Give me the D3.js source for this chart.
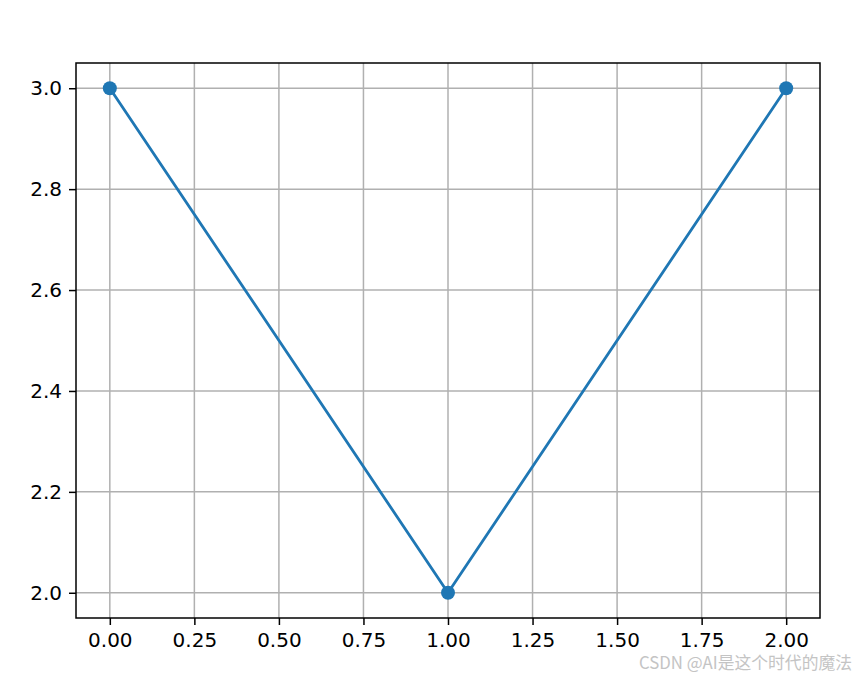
<!DOCTYPE html>
<html><head><meta charset="utf-8">
<script src="https://cdn.jsdelivr.net/npm/d3@7"></script>
<style>body{margin:0;background:#fff}svg{display:block}</style>
</head><body>
<script>
const xValues = [0, 1, 2];
const yValues = [3, 2, 3];
const xTicks = [0, 0.25, 0.5, 0.75, 1.0, 1.25, 1.5, 1.75, 2.0];
const yTicks = [2.0, 2.2, 2.4, 2.6, 2.8, 3.0];

const W = 856, H = 678;
const m = {left: 76, right: 36, top: 63, bottom: 60};
const svg = d3.select("body").append("svg").attr("width", W).attr("height", H);
const x = d3.scaleLinear().domain([-0.1, 2.1]).range([m.left, W - m.right]);
const y = d3.scaleLinear().domain([1.95, 3.05]).range([H - m.bottom, m.top]);
const font = "DejaVu Sans, sans-serif";

// grid
svg.append("g").selectAll("line").data(xTicks).join("line")
  .attr("x1", d => x(d)).attr("x2", d => x(d))
  .attr("y1", m.top).attr("y2", H - m.bottom)
  .attr("stroke", "#b0b0b0").attr("stroke-width", 1.5);
svg.append("g").selectAll("line").data(yTicks).join("line")
  .attr("y1", d => y(d)).attr("y2", d => y(d))
  .attr("x1", m.left).attr("x2", W - m.right)
  .attr("stroke", "#b0b0b0").attr("stroke-width", 1.5);

// axes
const xAxis = svg.append("g").attr("transform", `translate(0,${H - m.bottom})`)
  .call(d3.axisBottom(x).tickValues(xTicks).tickFormat(d3.format(".2f")).tickSizeOuter(0).tickSize(7).tickPadding(8));
const yAxis = svg.append("g").attr("transform", `translate(${m.left},0)`)
  .call(d3.axisLeft(y).tickValues(yTicks).tickFormat(d3.format(".1f")).tickSizeOuter(0).tickSize(7).tickPadding(7));
[xAxis, yAxis].forEach(a => {
  a.select(".domain").remove();
  a.selectAll("line").attr("stroke", "#000").attr("stroke-width", 1.5);
  a.selectAll("text").attr("font-family", font).attr("font-size", 20).attr("fill", "#000");
});

// line
const pts = xValues.map((d, i) => [d, yValues[i]]);
svg.append("path").datum(pts)
  .attr("fill", "none").attr("stroke", "#1f77b4").attr("stroke-width", 2.8)
  .attr("d", d3.line().x(d => x(d[0])).y(d => y(d[1])));
svg.append("g").selectAll("circle").data(pts).join("circle")
  .attr("cx", d => x(d[0])).attr("cy", d => y(d[1])).attr("r", 7).attr("fill", "#1f77b4");

// frame
svg.append("rect").attr("x", m.left).attr("y", m.top)
  .attr("width", W - m.left - m.right).attr("height", H - m.top - m.bottom)
  .attr("fill", "none").attr("stroke", "#000").attr("stroke-width", 1.5);

// watermark
svg.append("text").attr("x", 852).attr("y", 669).attr("text-anchor", "end")
  .attr("font-family", "Noto Sans CJK SC, sans-serif").attr("font-size", 16.8)
  .attr("fill", "#c4c4c4").text("CSDN @AI是这个时代的魔法");
</script>
</body></html>
